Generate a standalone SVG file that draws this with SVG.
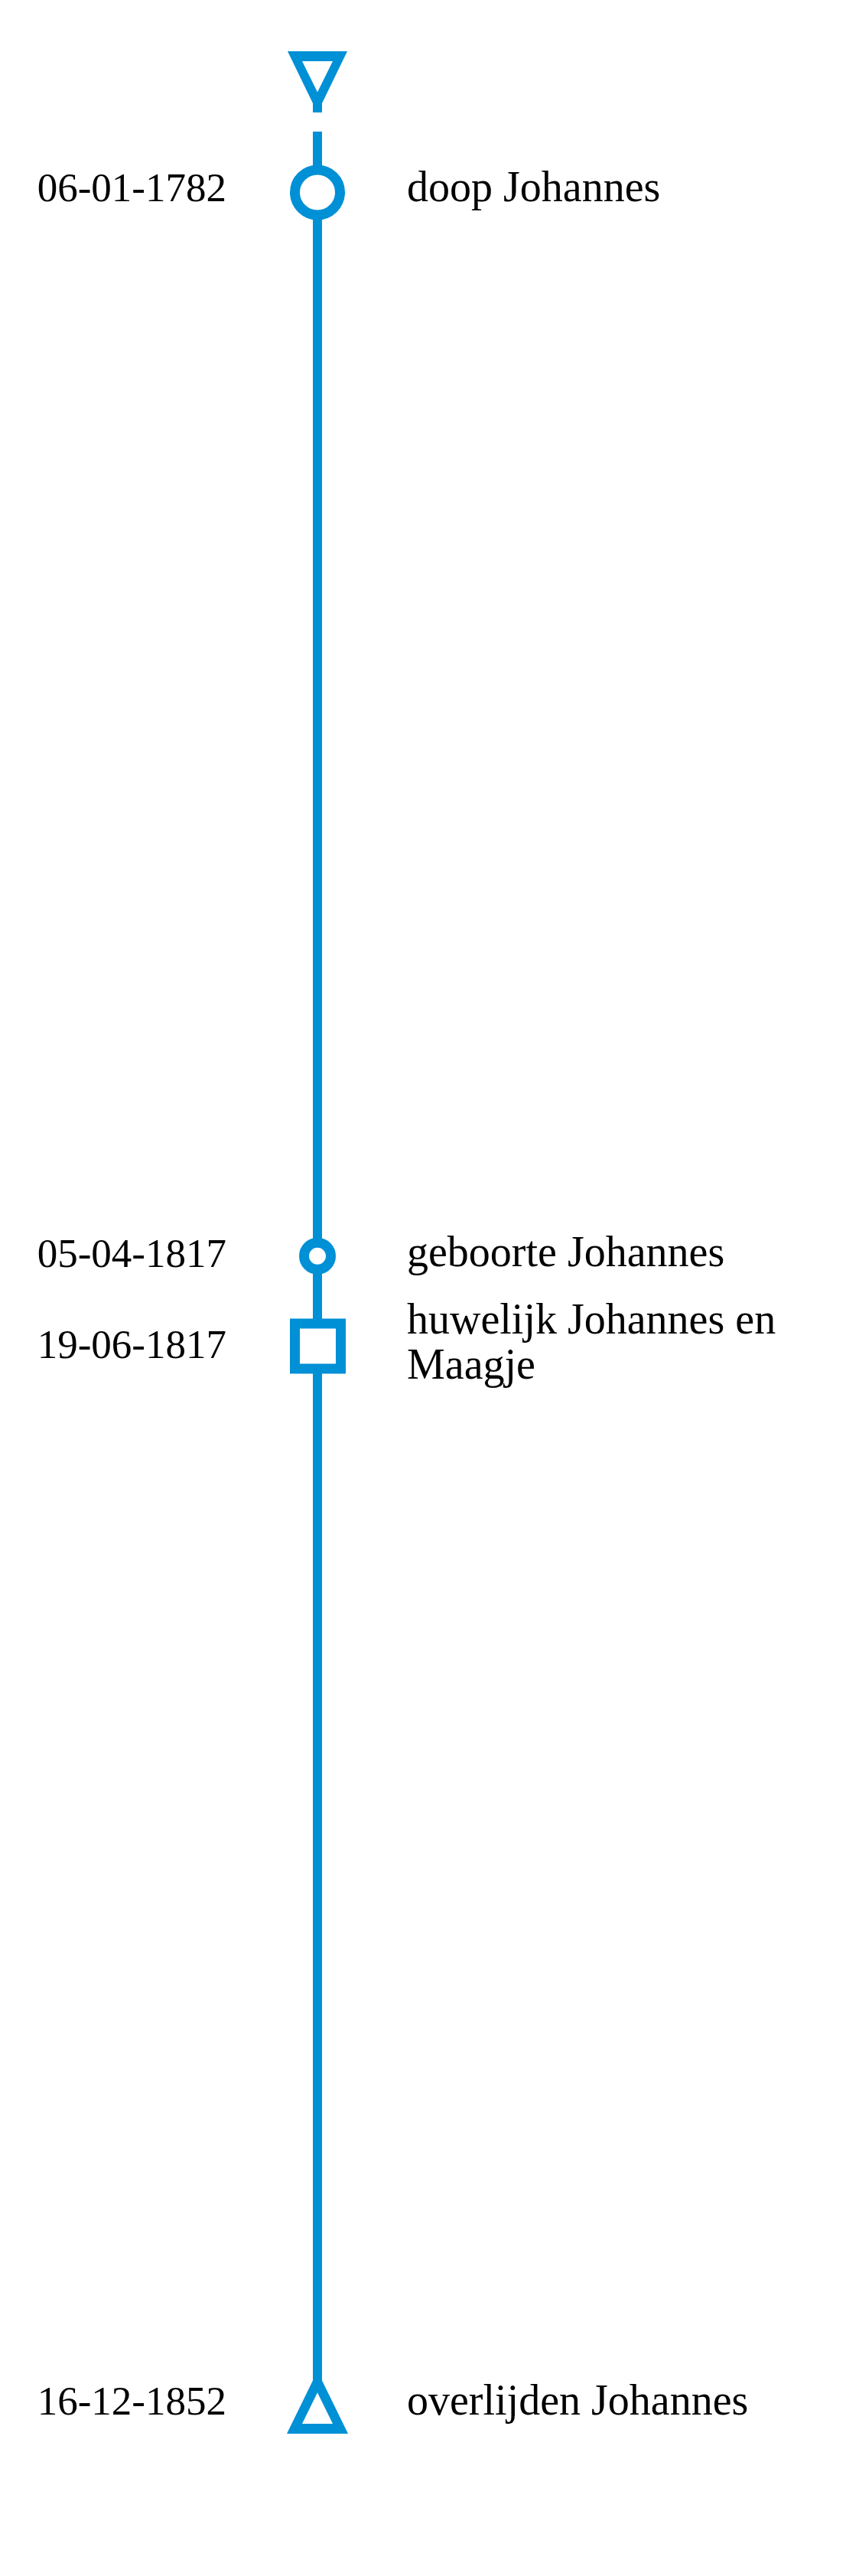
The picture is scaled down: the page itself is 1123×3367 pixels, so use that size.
<svg xmlns="http://www.w3.org/2000/svg" width="1123" height="3367" viewBox="0 0 1123 3367">
<style>
.ln{stroke:#0090d6;stroke-width:12;fill:none}
.mk{fill:#0090d6;fill-rule:evenodd}
.ring{stroke:#0090d6;stroke-width:13;fill:#ffffff}
.date{font-family:"Liberation Serif","Times New Roman",serif;font-size:53px;fill:#000;text-anchor:end}
.lbl{font-family:"Liberation Serif","Times New Roman",serif;font-size:56px;fill:#000}
</style>
<rect width="1123" height="3367" fill="#ffffff"/>
<g id="connectors">
<line class="ln" x1="415" y1="172" x2="415" y2="3115"/>
</g>
<g id="start">
<path class="mk" d="M376,67 L454,67 L421,135 L421,147 L409,147 L409,135 Z M395,80 L435,80 L415,120.5 Z"/>
</g>
<g id="doop">
<circle class="ring" cx="415" cy="251.5" r="29.5"/>
<text class="date" x="296" y="263">06-01-1782</text>
<text class="lbl" x="532" y="263">doop Johannes</text>
</g>
<g id="geboorte">
<circle class="ring" cx="415" cy="1641.7" r="17.5"/>
<text class="date" x="296" y="1656">05-04-1817</text>
<text class="lbl" x="532" y="1655">geboorte Johannes</text>
</g>
<g id="huwelijk">
<rect class="ring" x="385.5" y="1730" width="60" height="59" stroke-width="12.5"/>
<text class="date" x="296" y="1775">19-06-1817</text>
<text class="lbl" x="532" y="1743">huwelijk Johannes en</text>
<text class="lbl" x="532" y="1802">Maagje</text>
</g>
<g id="overlijden">
<path class="mk" d="M409,3100 L421,3100 L421,3111.6 L455,3181 L375,3181 L409,3111.6 Z M415,3127.2 L435,3168 L395,3168 Z"/>
<text class="date" x="296" y="3156">16-12-1852</text>
<text class="lbl" x="532" y="3156">overlijden Johannes</text>
</g>
</svg>
